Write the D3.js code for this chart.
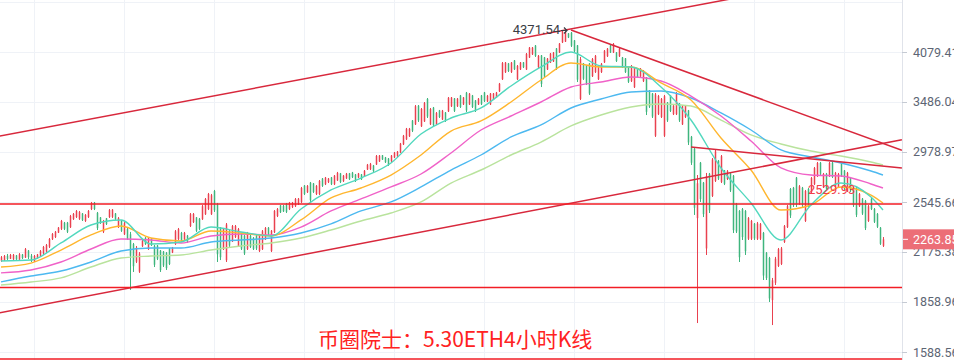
<!DOCTYPE html>
<html>
<head>
<meta charset="utf-8">
<script src="https://cdn.jsdelivr.net/npm/d3@7"></script>
<style>
html, body { margin: 0; padding: 0; background: #fff; }
svg { display: block; }
</style>
</head>
<body>
<div id="chart"></div>
<script>
'use strict';

// ETH/USDT 4h candles: [open, high, low, close]
var candles = [
    [2114,2148,2108,2140],[2120,2155,2115,2148],[2150,2162,2121,2128],[2130,2162,2128,2155],[2127,2162,2121,2156],
    [2152,2155,2121,2128],[2126,2168,2115,2160],[2158,2162,2128,2134],[2138,2203,2135,2195],[2185,2189,2128,2140],
    [2150,2162,2108,2115],[2112,2155,2108,2148],[2135,2162,2128,2158],[2150,2189,2142,2182],[2165,2217,2155,2210],
    [2178,2231,2168,2224],[2212,2273,2203,2266],[2265,2309,2259,2302],[2280,2324,2273,2318],[2312,2353,2309,2348],
    [2340,2406,2331,2398],[2385,2391,2331,2340],[2385,2391,2309,2318],[2352,2444,2346,2435],[2412,2459,2406,2452],
    [2428,2482,2421,2475],[2415,2475,2406,2466],[2455,2459,2398,2405],[2398,2451,2391,2444],[2428,2482,2421,2475],
    [2490,2546,2482,2538],[2540,2546,2482,2490],[2460,2467,2331,2345],[2425,2428,2376,2382],[2318,2406,2309,2398],
    [2418,2421,2368,2375],[2428,2490,2421,2482],[2430,2490,2421,2485],[2455,2459,2406,2412],[2352,2428,2346,2420],
    [2400,2406,2317,2325],[2300,2391,2295,2382],[2340,2346,2259,2266],[2300,2317,1931,2150],[2230,2238,2043,2080],
    [2110,2217,2101,2205],[2045,2175,2037,2165],[2215,2259,2210,2252],[2275,2280,2224,2230],[2195,2280,2189,2272],
    [2268,2273,2217,2222],[2218,2224,2075,2090],[2220,2224,2121,2130],[2185,2189,2043,2055],[2178,2182,2075,2085],
    [2170,2175,2056,2068],[2198,2203,2088,2095],[2172,2210,2168,2205],[2230,2331,2224,2322],[2265,2346,2259,2338],
    [2310,2317,2245,2252],[2265,2317,2259,2310],[2290,2295,2238,2245],[2360,2459,2353,2450],[2390,2459,2383,2452],
    [2425,2428,2317,2325],[2415,2421,2331,2340],[2412,2522,2406,2512],[2450,2578,2444,2570],[2490,2619,2482,2610],
    [2450,2611,2444,2600],[2635,2644,2467,2480],[2530,2538,2108,2160],[2350,2353,2121,2140],[2195,2346,2189,2338],
    [2120,2383,2108,2372],[2325,2331,2210,2220],[2250,2368,2245,2360],[2280,2368,2273,2360],[2215,2346,2210,2338],
    [2305,2309,2189,2198],[2290,2295,2155,2165],[2195,2317,2189,2310],[2290,2295,2203,2210],[2275,2280,2189,2195],
    [2290,2295,2189,2200],[2182,2295,2175,2288],[2195,2331,2189,2322],[2265,2353,2259,2346],[2348,2353,2295,2300],
    [2182,2331,2175,2325],[2315,2482,2309,2475],[2435,2498,2428,2490],[2518,2522,2459,2465],[2515,2522,2467,2472],
    [2532,2538,2459,2468],[2490,2546,2482,2540],[2505,2546,2498,2540],[2512,2578,2506,2570],[2528,2578,2522,2572],
    [2545,2669,2538,2660],[2680,2685,2602,2610],[2625,2685,2619,2678],[2705,2711,2546,2560],[2698,2702,2619,2628],
    [2610,2685,2602,2678],[2610,2728,2602,2720],[2740,2745,2669,2678],[2692,2754,2685,2748],[2710,2745,2702,2740],
    [2750,2754,2685,2692],[2692,2771,2685,2765],[2725,2798,2720,2790],[2785,2789,2702,2710],[2718,2771,2711,2765],
    [2742,2789,2737,2782],[2785,2789,2728,2735],[2792,2798,2745,2752],[2775,2780,2711,2720],[2750,2789,2745,2784],
    [2776,2780,2728,2735],[2760,2815,2754,2808],[2820,2869,2815,2862],[2822,2878,2815,2870],[2855,2860,2798,2805],
    [2865,2951,2860,2942],[2892,2951,2887,2945],[2948,2951,2905,2910],[2928,2933,2878,2885],[2918,2923,2851,2860],
    [2892,2951,2887,2945],[2928,2979,2923,2972],[2938,2988,2933,2982],[2975,3065,2970,3058],[3052,3143,3045,3135],
    [3100,3213,3094,3205],[3130,3213,3123,3205],[3288,3294,3172,3185],[3250,3453,3243,3440],[3445,3453,3274,3290],
    [3230,3421,3223,3410],[3280,3486,3274,3475],[3520,3530,3315,3330],[3250,3421,3243,3410],[3425,3432,3223,3240],
    [3250,3378,3243,3368],[3395,3400,3315,3325],[3300,3400,3294,3392],[3372,3378,3274,3285],[3385,3541,3378,3532],
    [3440,3541,3432,3535],[3525,3530,3378,3390],[3440,3530,3432,3522],[3558,3564,3421,3432],[3460,3541,3453,3535],
    [3590,3598,3378,3395],[3460,3586,3453,3578],[3558,3564,3421,3432],[3502,3508,3378,3390],[3460,3530,3453,3522],
    [3558,3564,3453,3462],[3592,3598,3486,3495],[3492,3564,3486,3555],[3460,3586,3453,3578],[3515,3586,3508,3580],
    [3536,3598,3530,3590],[3605,3701,3598,3692],[3745,3953,3736,3940],[3828,3953,3819,3945],[3935,3941,3831,3842],
    [3830,3953,3819,3945],[3972,3978,3855,3865],[3745,3916,3736,3905],[3862,3953,3855,3945],[3948,3953,3879,3888],
    [3862,4067,3855,4055],[4010,4144,4003,4135],[4050,4144,4041,4136],[4162,4170,4016,4030],[3888,4041,3879,4030],
    [4035,4041,3654,3690],[4010,4016,3759,3775],[3862,4003,3855,3995],[3948,4067,3941,4058],[3960,4079,3953,4070],
    [4125,4131,3855,3870],[4075,4196,4067,4188],[4205,4358,4196,4345],[4215,4371.54,4210,4340],[4325,4330,4262,4270],
    [4335,4344,4144,4160],[4230,4236,4079,4090],[4165,4170,3712,3740],[3520,4016,3508,3990],[3935,3941,3736,3750],
    [3910,3916,3677,3690],[3935,3941,3564,3580],[3780,4003,3771,3990],[3830,4041,3819,4030],[3745,3892,3736,3880],
    [3830,3941,3819,3930],[3950,4105,3941,4095],[4025,4131,4016,4122],[4165,4170,4067,4075],[4075,4196,4067,4185],
    [4072,4079,3953,3965],[4025,4131,4016,4120],[4010,4016,3879,3890],[3998,4003,3819,3830],[3885,3892,3701,3715],
    [3722,3916,3712,3905],[3652,3892,3643,3880],[3874,3879,3759,3770],[3780,3879,3771,3870],[3722,3855,3712,3845],
    [3765,3771,3346,3380],[3615,3620,3421,3435],[3580,3586,3315,3330],[3135,3586,3123,3570],[3355,3564,3346,3552],
    [3325,3530,3315,3520],[3135,3564,3123,3550],[3480,3486,3274,3290],[3558,3564,3378,3390],[3355,3453,3346,3445],
    [3355,3598,3346,3585],[3470,3475,3274,3290],[3250,3453,3243,3440],[3325,3453,3315,3445],[3395,3400,3045,3070],
    [3125,3133,2860,2880],[3010,3017,2444,2500],[2420,2771,1740,2700],[2880,2887,2546,2570],[2705,2711,2428,2450],
    [2200,2789,2155,2760],[2782,2789,2459,2480],[2595,2923,2586,2910],[2720,2998,2711,2985],[2898,2905,2728,2740],
    [2712,2951,2702,2940],[2810,2815,2685,2695],[2735,2815,2728,2805],[2785,2789,2627,2640],[2765,2771,2309,2330],
    [2532,2538,2309,2320],[2475,2482,2108,2140],[2490,2498,2259,2280],[2475,2482,2155,2180],[2268,2428,2259,2420],
    [2268,2406,2259,2398],[2378,2383,2259,2270],[2268,2391,2259,2380],[2268,2383,2259,2375],[2310,2317,1992,2020],
    [2170,2175,1992,2005],[2135,2142,1859,1880],[1870,2005,1729,1990],[1975,2142,1961,2130],[2082,2203,2075,2195],
    [2095,2210,2088,2200],[2245,2368,2238,2360],[2352,2522,2346,2512],[2652,2660,2421,2440],[2662,2669,2506,2520],
    [2748,2754,2506,2525],[2530,2685,2522,2675],[2662,2669,2506,2520],[2398,2644,2391,2635],[2652,2660,2506,2520],
    [2625,2754,2619,2745],[2692,2842,2685,2832],[2760,2887,2754,2878],[2880,2887,2771,2782],[2668,2789,2660,2780],
    [2782,2789,2644,2655],[2760,2887,2754,2878],[2880,2887,2745,2755],[2668,2798,2660,2790],[2668,2789,2660,2780],
    [2872,2878,2754,2765],[2810,2815,2644,2655],[2635,2798,2627,2790],[2748,2754,2627,2640],[2662,2669,2506,2520],
    [2662,2669,2428,2445],[2512,2619,2506,2610],[2572,2578,2444,2455],[2555,2562,2331,2345],[2398,2522,2391,2512],
    [2572,2578,2482,2490],[2490,2498,2383,2392],[2452,2459,2346,2355],[2348,2353,2224,2232],[2218,2280,2210,2263.85]
];

// moving averages, sampled every 10 candles
var maIndex = [0,10,20,30,40,50,60,70,80,90,100,110,120,130,140,150,160,170,180,190,200,210,220,230,240,250,260,270,280,290,294];
var maTeal = [2115,2121,2238,2368,2406,2231,2245,2353,2317,2288,2490,2644,2745,2878,3152,3315,3421,3666,3892,4079,3904,3892,3654,3294,2833,2538,2259,2522,2702,2586,2482];
var maOrange = [2075,2101,2189,2295,2361,2273,2252,2324,2309,2288,2406,2578,2660,2771,2951,3182,3284,3486,3736,3941,3892,3892,3701,3508,3113,2815,2482,2522,2669,2602,2538];
var maPink = [2037,2056,2108,2196,2266,2259,2238,2288,2302,2295,2353,2475,2570,2669,2780,2970,3192,3336,3486,3654,3712,3771,3724,3552,3336,3084,2833,2771,2763,2694,2660];
var maBlue = [1980,2017,2049,2108,2182,2203,2203,2245,2259,2273,2309,2376,2475,2546,2669,2815,2951,3123,3243,3421,3519,3598,3609,3530,3368,3192,2998,2933,2878,2806,2771];
var maLightGreen = [1961,1980,2005,2075,2135,2148,2155,2189,2217,2238,2273,2331,2398,2459,2546,2702,2815,2951,3074,3233,3346,3432,3464,3442,3294,3143,3055,2988,2942,2887,2860];

var priceTicks = [4773.8, 4079.41, 3486.04, 2978.97, 2545.66, 2175.38, 1858.96, 1588.56];
var timeGrid = [11, 41, 71, 101, 131, 161, 191, 221, 251, 281];

// drawn trend lines: two anchors [index, price] and the index span drawn
var trendLines = [
    { a: [0, 3135], b: [188, 4371.54], from: -1, to: 301 },
    { a: [0, 1798], b: [300, 3094], from: -1, to: 300.3 },
    { a: [190, 4371.54], b: [300, 2998], from: 190, to: 300.3 },
    { a: [230, 3027], b: [300, 2833], from: 230, to: 300.3 }
];
var levels = [2529.93, 1946, 1554];

var peakIndex = 188, peakPrice = 4371.54;
var levelLabelIndex = 269;
var lastPrice = 2263.85;
var title = '币圈院士：5.30ETH4小时K线';

var W = 954, H = 360, PLOT_R = 902;
var UP = '#e9414f', DOWN = '#3fb57d';
var NUM_FONT = 'Roboto, "Liberation Sans", sans-serif';

var x = d3.scaleLinear().domain([0, candles.length - 1]).range([1, 883]);
var y = d3.scaleLog().domain([1588.56, 4079.41]).range([352, 52]);

var svg = d3.select('#chart').append('svg')
            .attr('width', W)
            .attr('height', H);

svg.append('rect').attr('width', W).attr('height', H).attr('fill', '#fff');

svg.append('defs').append('clipPath').attr('id', 'plot')
   .append('rect').attr('x', 0).attr('y', 0).attr('width', PLOT_R).attr('height', H);

// grid
var grid = svg.append('g');
grid.selectAll('line.h').data(priceTicks).enter().append('line')
    .attr('x1', 0).attr('x2', PLOT_R)
    .attr('y1', function (d) { return Math.round(y(d)) + 0.5; })
    .attr('y2', function (d) { return Math.round(y(d)) + 0.5; })
    .attr('stroke', '#eff2f7');
grid.selectAll('line.v').data(timeGrid).enter().append('line')
    .attr('x1', function (d) { return Math.round(x(d)) + 0.5; })
    .attr('x2', function (d) { return Math.round(x(d)) + 0.5; })
    .attr('y1', 0).attr('y2', H)
    .attr('stroke', '#eff2f7');

var plot = svg.append('g').attr('clip-path', 'url(#plot)');

// candles
var isUp = function (d) { return d[3] >= d[0]; };
var cg = plot.append('g').selectAll('g').data(candles).enter().append('g')
             .attr('fill', function (d) { return isUp(d) ? UP : DOWN; })
             .attr('stroke', function (d) { return isUp(d) ? UP : DOWN; });
cg.append('line')
  .attr('x1', function (d, i) { return x(i) + 0.5; })
  .attr('x2', function (d, i) { return x(i) + 0.5; })
  .attr('y1', function (d) { return y(d[1]); })
  .attr('y2', function (d) { return y(d[2]); })
  .attr('stroke-width', 1);
cg.append('rect')
  .attr('stroke', 'none')
  .attr('x', function (d, i) { return x(i) - 0.25; })
  .attr('width', 1.5)
  .attr('y', function (d) { return y(Math.max(d[0], d[3])); })
  .attr('height', function (d) { return Math.max(1, Math.abs(y(d[0]) - y(d[3]))); });

// moving averages
var maLine = d3.line()
               .x(function (d) { return x(d[0]); })
               .y(function (d) { return y(d[1]); })
               .curve(d3.curveMonotoneX);
[
    [maLightGreen, '#b9e39d'],
    [maBlue, '#4db9f0'],
    [maPink, '#f062c8'],
    [maOrange, '#ffb62e'],
    [maTeal, '#52d8be']
].forEach(function (m) {
    plot.append('path')
        .datum(maIndex.map(function (idx, k) { return [idx, m[0][k]]; }))
        .attr('d', maLine)
        .attr('fill', 'none')
        .attr('stroke', m[1])
        .attr('stroke-width', 1.4);
});

// trend lines (straight on the log scale)
var priceAt = function (t, i) {
    var la = Math.log(t.a[1]), lb = Math.log(t.b[1]);
    return Math.exp(la + (lb - la) * (i - t.a[0]) / (t.b[0] - t.a[0]));
};
plot.selectAll('line.trend').data(trendLines).enter().append('line')
    .attr('x1', function (t) { return x(t.from); })
    .attr('y1', function (t) { return y(priceAt(t, t.from)); })
    .attr('x2', function (t) { return x(t.to); })
    .attr('y2', function (t) { return y(priceAt(t, t.to)); })
    .attr('stroke', '#d8283c')
    .attr('stroke-width', 1.5);

plot.selectAll('line.level').data(levels).enter().append('line')
    .attr('x1', 0).attr('x2', PLOT_R)
    .attr('y1', function (d) { return y(d); })
    .attr('y2', function (d) { return y(d); })
    .attr('stroke', '#f21d25')
    .attr('stroke-width', 1.5);

// right price axis
svg.append('line')
   .attr('x1', PLOT_R + 0.5).attr('x2', PLOT_R + 0.5)
   .attr('y1', 0).attr('y2', H)
   .attr('stroke', '#e0e3ea');

var axisG = svg.append('g')
               .attr('transform', 'translate(' + PLOT_R + ',0)')
               .call(d3.axisRight(y)
                       .tickValues(priceTicks.slice(1))
                       .tickFormat(d3.format('.2f'))
                       .tickSize(5)
                       .tickPadding(6));
axisG.select('.domain').remove();
axisG.selectAll('.tick line').attr('stroke', '#c5cad3');
axisG.selectAll('.tick text')
     .attr('fill', '#5d6574')
     .style('font-family', NUM_FONT)
     .style('font-size', '12.5px');

// last price tag
var ly = y(lastPrice);
svg.append('rect')
   .attr('x', PLOT_R + 1).attr('y', ly - 10)
   .attr('width', W - PLOT_R).attr('height', 20)
   .attr('fill', '#ec6e77');
svg.append('line')
   .attr('x1', PLOT_R + 1).attr('x2', PLOT_R + 6)
   .attr('y1', ly).attr('y2', ly)
   .attr('stroke', '#fff');
svg.append('text')
   .attr('x', PLOT_R + 11).attr('y', ly + 4.5)
   .attr('fill', '#fff')
   .style('font-family', NUM_FONT)
   .style('font-size', '12.5px')
   .text(d3.format('.2f')(lastPrice));

// annotations
var px = x(peakIndex), py = y(peakPrice);
svg.append('text')
   .attr('x', px - 5).attr('y', py + 4.5)
   .attr('text-anchor', 'end')
   .attr('fill', '#3a3d44')
   .style('font-family', NUM_FONT)
   .style('font-size', '13px')
   .text(d3.format('.2f')(peakPrice));
svg.append('path')
   .attr('d', 'M' + (px - 4) + ',' + (py + 0.5) + 'H' + (px + 2) +
              'M' + (px - 1) + ',' + (py - 2.5) + 'L' + (px + 2) + ',' + (py + 0.5) + 'L' + (px - 1) + ',' + (py + 3.5))
   .attr('fill', 'none')
   .attr('stroke', '#3a3d44')
   .attr('stroke-width', 1.2);

svg.append('text')
   .attr('x', x(levelLabelIndex)).attr('y', y(levels[0]) - 10)
   .attr('fill', '#f2404c')
   .style('font-family', NUM_FONT)
   .style('font-size', '13px')
   .text(d3.format('.2f')(levels[0]));

svg.append('text')
   .attr('x', 318).attr('y', 347)
   .attr('fill', '#ff2222')
   .style('font-family', '"Noto Sans CJK SC", "Noto Sans", sans-serif')
   .style('font-size', '21px')
   .text(title);
</script>
</body>
</html>
